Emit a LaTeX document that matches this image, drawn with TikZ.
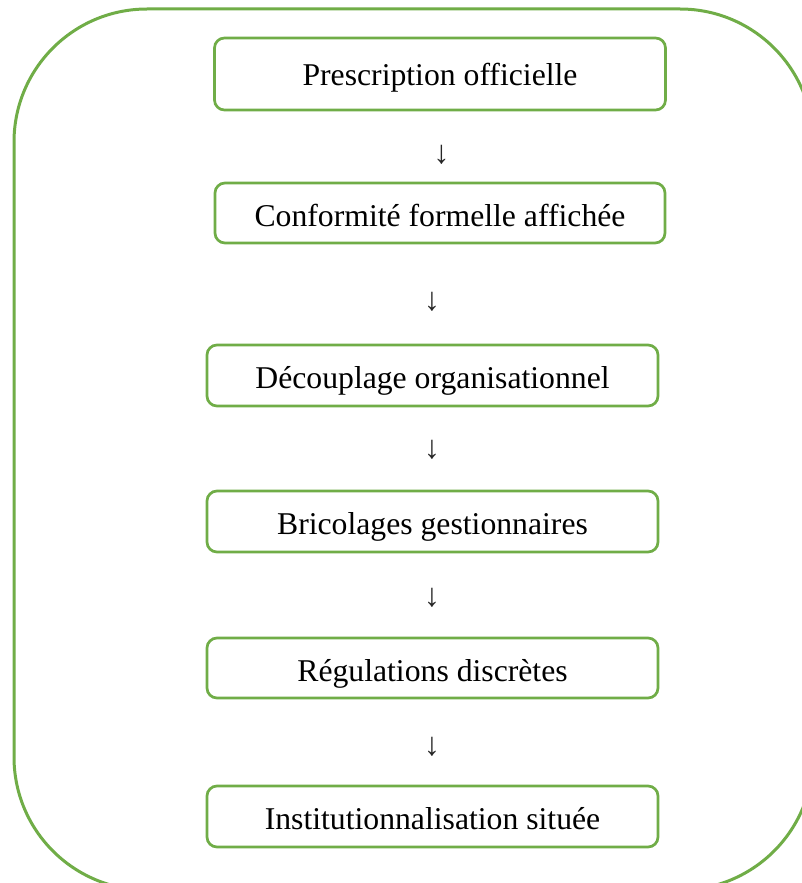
\documentclass[tikz,border=0pt]{standalone}
\usepackage{fontspec}
\setmainfont{Liberation Serif}
\definecolor{frame}{HTML}{70AD47}
\tikzset{
  outerbox/.style={draw=frame, line width=3pt, rounded corners=133pt},
  stepbox/.style={draw=frame, line width=2.7pt, rounded corners=10pt, rectangle, inner sep=0pt},
  steptext/.style={font=\fontsize{31.7}{38}\selectfont, text=black, anchor=base, inner sep=0pt},
  arrowglyph/.style={font=\fontsize{32.5}{38}\selectfont, text=black!85, inner sep=0pt}
}
\begin{document}
\begin{tikzpicture}[x=1pt,y=-1pt]
\useasboundingbox (0,0) rectangle (802,883);
\clip (0,0) rectangle (802,883);
\fill[white] (0,0) rectangle (802,883);
\draw[outerbox] (14,9) rectangle (813,890);

\node[stepbox, minimum width=451pt, minimum height=72pt] (b1) at (440,74) {};
\node[stepbox, minimum width=450pt, minimum height=60pt] (b2) at (440,213) {};
\node[stepbox, minimum width=451pt, minimum height=61pt] (b3) at (432.5,375.5) {};
\node[stepbox, minimum width=451pt, minimum height=61pt] (b4) at (432.5,521.5) {};
\node[stepbox, minimum width=451pt, minimum height=60pt] (b5) at (432.5,668) {};
\node[stepbox, minimum width=451pt, minimum height=61pt] (b6) at (432.5,816.5) {};

\node[steptext] (t1) at (440,85) {Prescription officielle};
\node[steptext] (t2) at (440,226) {Conformité formelle affichée};
\node[steptext] (t3) at (432.5,388) {Découplage organisationnel};
\node[steptext] (t4) at (432.5,534) {Bricolages gestionnaires};
\node[steptext] (t5) at (432.5,681) {Régulations discrètes};
\node[steptext] (t6) at (432.5,829) {Institutionnalisation située};

\node[arrowglyph] (a1) at (441.5,155) {↓};
\node[arrowglyph] (a2) at (432,302) {↓};
\node[arrowglyph] (a3) at (432,450) {↓};
\node[arrowglyph] (a4) at (432,598) {↓};
\node[arrowglyph] (a5) at (432,747) {↓};
\end{tikzpicture}
\end{document}
